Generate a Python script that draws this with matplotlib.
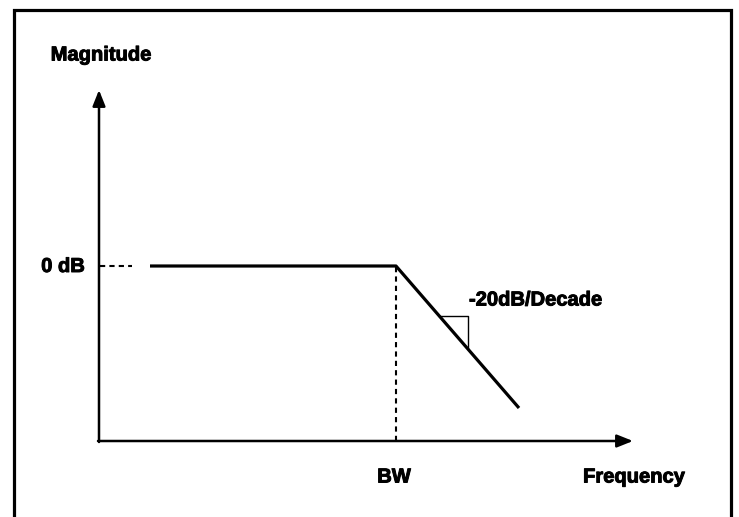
import matplotlib
matplotlib.use("Agg")
import matplotlib.pyplot as plt
import matplotlib.patheffects as pe
from matplotlib.patches import Rectangle

# schematic Bode magnitude plot (arbitrary units, origin at axes corner)
freq = [51, 297, 420]          # start of flat part, BW, end of roll-off
mag = [175, 175, 33]           # 0 dB level then -20 dB/decade
bw = 297
zero_db = 175
x_axis_end = 534
y_axis_end = 351
tri_x = [340, 369]             # slope marker triangle extent

plt.rcParams['font.family'] = ['Liberation Sans', 'DejaVu Sans']

fig = plt.figure(figsize=(7.39, 5.17), dpi=100)
ax = fig.add_axes([0, 0, 1, 1])
ax.set_xlim(-99, 640)
ax.set_ylim(-76, 441)
ax.axis("off")

# outer frame
fig.add_artist(Rectangle((14 / 739, -0.05), (731 - 14) / 739, 1.05 - 10 / 517,
                         transform=fig.transFigure, fill=False, lw=2.3,
                         edgecolor="black"))

# axes with arrows
arrow = dict(arrowstyle="-|>,head_length=0.4,head_width=0.16", mutation_scale=24,
             lw=1.8, color="black", shrinkA=0, shrinkB=0)
ax.annotate("", xy=(x_axis_end, 0), xytext=(-1, 0), arrowprops=arrow)
ax.annotate("", xy=(0, y_axis_end), xytext=(0, -1), arrowprops=arrow)

# response
ax.plot(freq, mag, color="black", lw=2.3, solid_capstyle="butt")

# guide lines
ax.plot([1, 33], [zero_db, zero_db], color="black", lw=1.5, dashes=(2.5, 2))
ax.plot([bw, bw], [0, zero_db], color="black", lw=1.5, dashes=(2.5, 2))

# slope triangle, corners taken on the roll-off line
slope = (mag[2] - mag[1]) / (freq[2] - freq[1])
y_top = mag[1] + (tri_x[0] - freq[1]) * slope
y_bot = mag[1] + (tri_x[1] - freq[1]) * slope
ax.plot([tri_x[0], tri_x[1], tri_x[1]], [y_top, y_top, y_bot], color="black", lw=1.0)

fs = 14.5
bold = dict(fontsize=fs, fontweight="bold",
            path_effects=[pe.withStroke(linewidth=0.7, foreground="black")])
ax.text(2, 386, "Magnitude", ha="center", va="center", **bold)
ax.text(-36, zero_db - 0.5, "0 dB", ha="center", va="center", **bold)
ax.text(bw - 2, -36, "BW", ha="center", va="center", **bold)
ax.text(535, -36, "Frequency", ha="center", va="center", **bold)
ax.text(370, 141, "-20dB/Decade", ha="left", va="center", **bold)

fig.savefig("out.png", dpi=100)
